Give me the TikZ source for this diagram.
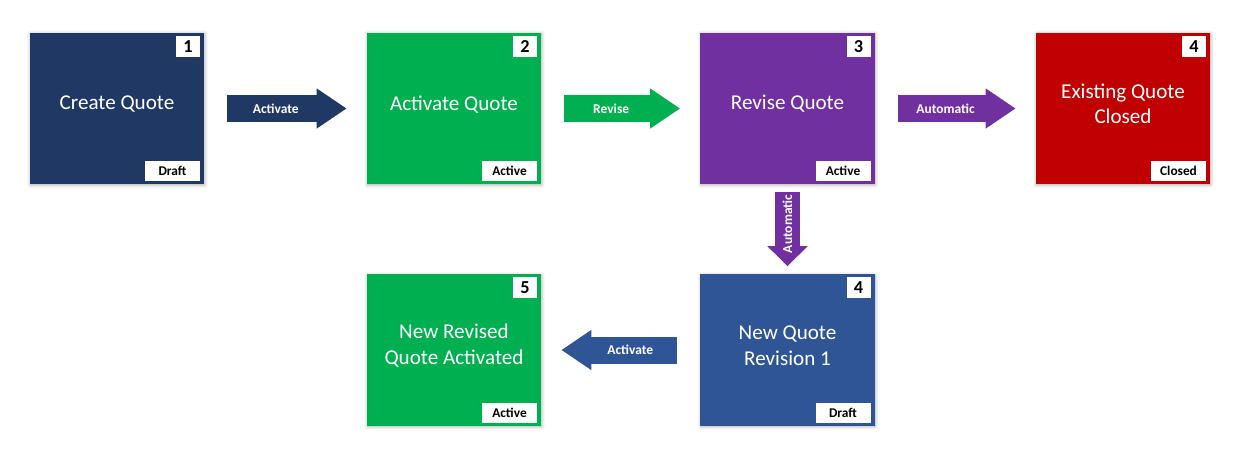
\documentclass[tikz,border=0pt]{standalone}
\usepackage{fontspec}
\setmainfont{Carlito}
\usetikzlibrary{arrows.meta,shadows.blur}

\definecolor{qnavy}{HTML}{1F3864}
\definecolor{qgreen}{HTML}{00B050}
\definecolor{qpurple}{HTML}{7030A0}
\definecolor{qred}{HTML}{C00000}
\definecolor{qblue}{HTML}{2F5597}

\tikzset{
  qbox/.style={minimum width=4.35cm, minimum height=3.775cm, inner sep=0pt,
    blur shadow={shadow xshift=0.4pt, shadow yshift=-0.6pt, shadow blur radius=2.5pt, shadow opacity=35}},
  qtitle/.style={text=white, font=\fontsize{15}{18}\selectfont, align=center, yshift=0.11cm},
  numtag/.style={fill=white, font=\fontsize{13}{13}\selectfont\bfseries, minimum width=0.6cm,
    minimum height=0.525cm, inner sep=0pt, anchor=north east, xshift=-0.1cm, yshift=-0.075cm},
  stattag/.style={fill=white, font=\fontsize{9.5}{10}\selectfont\bfseries, minimum width=1.375cm,
    minimum height=0.5cm, inner sep=0pt, anchor=south east, xshift=-0.1cm, yshift=0.075cm},
  flow/.style={line width=0.675cm, -{Triangle[length=0.75cm, width=0.95cm]},
    shorten <=0.575cm, shorten >=0.5cm},
  flowlbl/.style={text=white, font=\fontsize{9.6}{10}\selectfont\bfseries, pos=0.44}
}

\begin{document}
\begin{tikzpicture}[x=0.025cm, y=0.025cm]
  \useasboundingbox (0,0) rectangle (1240,-462);
  % top row
  \node[qbox, fill=qnavy, label={[numtag]north east:1}, label={[stattag]south east:Draft},
    label={[qtitle]center:Create Quote}] (create) at (117,-108.5) {};
  \node[qbox, fill=qgreen, label={[numtag]north east:2}, label={[stattag]south east:Active},
    label={[qtitle]center:Activate Quote}] (activate) at (454,-108.5) {};
  \node[qbox, fill=qpurple, label={[numtag]north east:3}, label={[stattag]south east:Active},
    label={[qtitle]center:Revise Quote}] (revise) at (787.5,-108.5) {};
  \node[qbox, fill=qred, label={[numtag]north east:4}, label={[stattag]south east:Closed},
    label={[qtitle]center:Existing Quote\\Closed}] (closed) at (1123,-108.5) {};
  % bottom row
  \node[qbox, fill=qblue, label={[numtag]north east:4}, label={[stattag]south east:Draft},
    label={[qtitle]center:New Quote\\Revision 1}] (revision) at (787.5,-350) {};
  \node[qbox, fill=qgreen, label={[numtag]north east:5}, label={[stattag]south east:Active},
    label={[qtitle]center:New Revised\\Quote Activated}] (newactive) at (454,-350) {};
  % block arrows
  \draw[flow, qnavy] (create.east) -- node[flowlbl] {Activate} (activate.west);
  \draw[flow, qgreen] (activate.east) -- node[flowlbl] {Revise} (revise.west);
  \draw[flow, qpurple] (revise.east) -- node[flowlbl] {Automatic} (closed.west);
  \draw[flow, qpurple, line width=0.625cm, -{Triangle[length=0.5cm, width=0.975cm]},
    shorten <=0.2cm, shorten >=0.2cm] (revise.south) -- node[flowlbl, rotate=90] {Automatic} (revision.north);
  \draw[flow, qblue] (revision.west) -- node[flowlbl] {Activate} (newactive.east);
\end{tikzpicture}
\end{document}
